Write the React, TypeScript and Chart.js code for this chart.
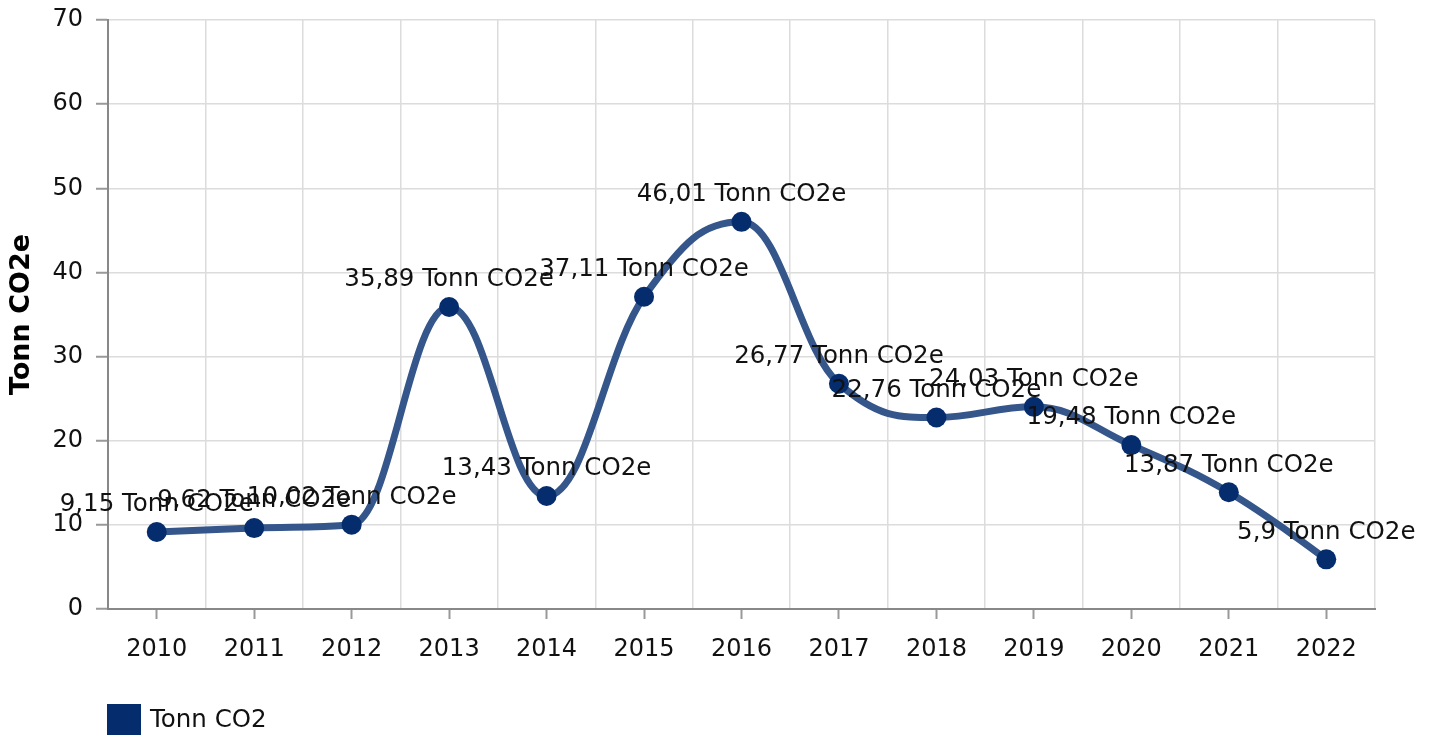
import React, { useEffect, useRef } from "react";
import { Chart, registerables } from "chart.js";

Chart.register(...registerables);

const years = ["2010", "2011", "2012", "2013", "2014", "2015", "2016", "2017", "2018", "2019", "2020", "2021", "2022"];
const tonnValues = [9.15, 9.62, 10.02, 35.89, 13.43, 37.11, 46.01, 26.77, 22.76, 24.03, 19.48, 13.87, 5.9];
const seriesLabel = "Tonn CO2";
const unitSuffix = " Tonn CO2e";
const axisTitle = "Tonn CO2e";

const FONT = "'DejaVu Sans', Verdana, sans-serif";
const LINE_COLOR = "#35568b";
const POINT_COLOR = "#052c6c";

// Spline control points (smoothing 1.5, no overshoot at local extremes)
const splinePlugin = {
  id: "smoothSpline",
  beforeDatasetDraw(chart: any, args: any) {
    const meta = args.meta;
    const pts = meta.data;
    const n = pts.length;
    const smoothing = 1.5;
    const denom = smoothing + 1;
    for (let i = 0; i < n; i++) {
      const p = pts[i];
      p.cp1x = p.x; p.cp1y = p.y; p.cp2x = p.x; p.cp2y = p.y;
    }
    for (let i = 1; i < n - 1; i++) {
      const p = pts[i];
      const last = pts[i - 1];
      const next = pts[i + 1];
      const plotX = p.x, plotY = p.y;
      const lastX = last.x, lastY = last.y, nextX = next.x, nextY = next.y;
      const leftContX = (smoothing * plotX + lastX) / denom;
      let leftContY = (smoothing * plotY + lastY) / denom;
      const rightContX = (smoothing * plotX + nextX) / denom;
      let rightContY = (smoothing * plotY + nextY) / denom;
      let correction = 0;
      if (rightContX !== leftContX) {
        correction = ((rightContY - leftContY) * (rightContX - plotX)) / (rightContX - leftContX) + plotY - rightContY;
      }
      leftContY += correction;
      rightContY += correction;
      if (leftContY > lastY && leftContY > plotY) {
        leftContY = Math.max(lastY, plotY);
        rightContY = 2 * plotY - leftContY;
      } else if (leftContY < lastY && leftContY < plotY) {
        leftContY = Math.min(lastY, plotY);
        rightContY = 2 * plotY - leftContY;
      }
      if (rightContY > nextY && rightContY > plotY) {
        rightContY = Math.max(nextY, plotY);
        leftContY = 2 * plotY - rightContY;
      } else if (rightContY < nextY && rightContY < plotY) {
        rightContY = Math.min(nextY, plotY);
        leftContY = 2 * plotY - rightContY;
      }
      p.cp1x = leftContX; p.cp1y = leftContY;
      p.cp2x = rightContX; p.cp2y = rightContY;
    }
    if (meta.dataset) {
      meta.dataset._pointsUpdated = true;
      meta.dataset._path = undefined;
    }
  },
};

const dataLabelPlugin = {
  id: "dataLabels",
  afterDatasetsDraw(chart: any) {
    const ctx = chart.ctx;
    const meta = chart.getDatasetMeta(0);
    const data = chart.data.datasets[0].data as number[];
    ctx.save();
    ctx.font = `24.5px ${FONT}`;
    ctx.fillStyle = "#111";
    ctx.textAlign = "center";
    ctx.textBaseline = "middle";
    meta.data.forEach((pt: any, i: number) => {
      const txt = String(data[i]).replace(".", ",") + unitSuffix;
      ctx.fillText(txt, pt.x, pt.y - 27);
    });
    ctx.restore();
  },
};

const customLegendPlugin = {
  id: "customLegend",
  afterDraw(chart: any) {
    const ctx = chart.ctx;
    const ds = chart.data.datasets[0];
    const x = chart.chartArea.left - 1;
    const y = chart.chartArea.bottom + 95;
    ctx.save();
    ctx.fillStyle = ds.pointBackgroundColor;
    ctx.fillRect(x, y, 34, 34);
    ctx.font = `24.5px ${FONT}`;
    ctx.fillStyle = "#111";
    ctx.textAlign = "left";
    ctx.textBaseline = "middle";
    ctx.fillText(ds.label, x + 43, y + 17);
    ctx.restore();
  },
};

export default function App() {
  const canvasRef = useRef<HTMLCanvasElement | null>(null);

  useEffect(() => {
    if (!canvasRef.current) return;
    const chart = new Chart(canvasRef.current, {
      type: "line",
      data: {
        labels: years,
        datasets: [
          {
            label: seriesLabel,
            data: tonnValues,
            borderColor: LINE_COLOR,
            borderWidth: 7,
            tension: 0.4,
            pointRadius: 10,
            pointBorderWidth: 0,
            pointBackgroundColor: POINT_COLOR,
            pointBorderColor: POINT_COLOR,
            fill: false,
          } as any,
        ],
      },
      options: {
        animation: false,
        responsive: true,
        maintainAspectRatio: false,
        layout: { padding: { top: 20, right: 57, bottom: 91, left: 0 } },
        plugins: {
          legend: { display: false },
          tooltip: { enabled: false },
        },
        scales: {
          x: {
            type: "category",
            offset: true,
            grid: {
              display: true,
              offset: false,
              drawOnChartArea: false,
              drawTicks: true,
              tickLength: 10,
              tickColor: "#999",
              tickWidth: 2,
            },
            border: { display: true, color: "#888", width: 2 },
            ticks: {
              color: "#111",
              font: { family: FONT, size: 24 },
              padding: 16,
              maxRotation: 0,
              autoSkip: false,
            },
            afterFit: (scale: any) => {
              scale.height = 60;
            },
          },
          xg: {
            type: "category",
            position: "bottom",
            offset: true,
            grid: {
              display: true,
              offset: true,
              drawOnChartArea: true,
              drawTicks: false,
              color: "#dcdcdc",
              lineWidth: 1.5,
            },
            border: { display: false },
            ticks: { display: false },
            afterFit: (scale: any) => {
              scale.height = 0;
            },
          },
          y: {
            min: 0,
            max: 70,
            ticks: {
              stepSize: 10,
              color: "#111",
              font: { family: FONT, size: 24 },
              padding: 13,
            },
            grid: {
              color: "#dcdcdc",
              lineWidth: 1.5,
              tickLength: 12,
              tickColor: "#999",
              tickWidth: 2,
            },
            border: { display: true, color: "#888", width: 2 },
            title: {
              display: true,
              text: axisTitle,
              color: "#000",
              font: { family: FONT, size: 27, weight: "bold" },
              padding: { top: 6, bottom: 0 },
            },
            afterFit: (scale: any) => {
              scale.width = 108;
              scale.paddingTop = 0;
              scale.paddingBottom = 0;
            },
          },
        },
      },
      plugins: [splinePlugin, dataLabelPlugin, customLegendPlugin],
    });
    return () => chart.destroy();
  }, []);

  return (
    <div style={{ position: "fixed", left: 0, top: 0, width: 1432, height: 760, background: "#fff" }}>
      <canvas ref={canvasRef} />
    </div>
  );
}
